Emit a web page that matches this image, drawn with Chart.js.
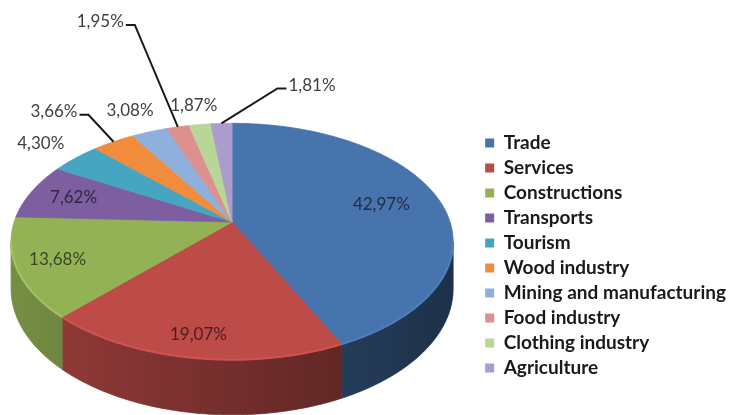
<!DOCTYPE html>
<html lang="en">
<head>
<meta charset="UTF-8">
<title>Companies by sector</title>
<script src="https://cdn.jsdelivr.net/npm/chart.js@4"></script>
<style>
  html, body { margin: 0; padding: 0; background: #fff; }
  #chart { display: block; }
</style>
</head>
<body>
<canvas id="chart" width="736" height="415"></canvas>
<script>
const CATEGORIES = ['Trade', 'Services', 'Constructions', 'Transports', 'Tourism', 'Wood industry',
  'Mining and manufacturing', 'Food industry', 'Clothing industry', 'Agriculture'];
const SHARES = [42.97, 19.07, 13.68, 7.62, 4.30, 3.66, 3.08, 1.95, 1.87, 1.81];
const COLORS = ['#4774ad', '#bd4b48', '#93b255', '#7d5ea0', '#46a6c2', '#f08c3c',
  '#8fb0dc', '#dc918f', '#b9d699', '#ad9ccb'];

// where each percentage goes: r = distance along the slice middle (1 = rim),
// lead = elbow of a leader line, relative to the rim point (thin slices)
const LABEL_SPOTS = [
  { r: 0.72 }, { r: 0.85 }, { r: 0.82 }, { r: 0.785 }, { r: 1.25 },
  { lead: [-25, -27] }, { r: 1.28 }, { lead: [-43, -102] }, { r: 1.23 }, { lead: [56, -35] }
];

// fake 3d: tilted disc seen in perspective
const TILT = { dx: -7.5, dy: -33.5, rx: 218, ry: 115, persp: 0.165, depth: 46 };

function shade(hex, f) {
  const n = parseInt(hex.slice(1), 16);
  const k = (c) => Math.min(255, Math.round(c * f));
  return `rgb(${k((n >> 16) & 255)},${k((n >> 8) & 255)},${k(n & 255)})`;
}

const pie3d = {
  id: 'pie3d',
  beforeDatasetsDraw(chart) {
    const ctx = chart.ctx;
    const arcs = chart.getDatasetMeta(0).data;
    const cx = arcs[0].x + TILT.dx;
    const cy = arcs[0].y + TILT.dy;

    const proj = (a, r, z) => {
      const u = r * Math.cos(a), v = r * Math.sin(a);
      const den = 1 - TILT.persp * v;
      return { x: cx + TILT.rx * u / den, y: cy + (TILT.ry * v + TILT.depth * z) / den };
    };
    const trace = (a1, a2, z, first) => {
      const n = Math.max(2, Math.ceil(Math.abs(a2 - a1) / 0.01));
      for (let k = 0; k <= n; k++) {
        const p = proj(a1 + (a2 - a1) * k / n, 1, z);
        if (k === 0 && first) ctx.moveTo(p.x, p.y); else ctx.lineTo(p.x, p.y);
      }
    };

    const front0 = Math.asin(TILT.persp);
    const front1 = Math.PI - front0;
    ctx.save();

    // side walls
    arcs.forEach((arc, i) => {
      const a1 = Math.max(arc.startAngle, front0);
      const a2 = Math.min(arc.endAngle, front1);
      if (a2 <= a1) return;
      const grad = ctx.createLinearGradient(cx - TILT.rx, 0, cx + TILT.rx, 0);
      grad.addColorStop(0, shade(COLORS[i], 0.8));
      grad.addColorStop(1, shade(COLORS[i], 0.42));
      ctx.beginPath();
      trace(a1, a2, 0, true);
      trace(a2, a1, 1, false);
      ctx.closePath();
      ctx.fillStyle = grad;
      ctx.fill();
      ctx.strokeStyle = grad;
      ctx.lineWidth = 0.8;
      ctx.stroke();
    });

    // top faces
    arcs.forEach((arc, i) => {
      const c = proj(0, 0, 0);
      ctx.beginPath();
      ctx.moveTo(c.x, c.y);
      trace(arc.startAngle, arc.endAngle, 0, false);
      ctx.closePath();
      ctx.fillStyle = COLORS[i];
      ctx.fill();
      ctx.strokeStyle = COLORS[i];
      ctx.lineWidth = 0.8;
      ctx.stroke();
      // light glint along the front rim
      const a1 = Math.max(arc.startAngle, front0);
      const a2 = Math.min(arc.endAngle, front1);
      if (a2 > a1) {
        ctx.beginPath();
        trace(a1, a2, 0, true);
        ctx.strokeStyle = shade(COLORS[i], 1.1);
        ctx.lineWidth = 2;
        ctx.stroke();
      }
    });

    // percentage labels
    ctx.font = '17px Lato';
    ctx.textBaseline = 'middle';
    arcs.forEach((arc, i) => {
      const spot = LABEL_SPOTS[i];
      const mid = (arc.startAngle + arc.endAngle) / 2;
      const text = SHARES[i].toFixed(2).replace('.', ',') + '%';
      if (spot.r) {
        const p = proj(mid, spot.r, 0);
        ctx.textAlign = 'center';
        ctx.fillStyle = spot.r < 1 ? shade(COLORS[i], 0.4) : '#404040';
        ctx.fillText(text, p.x, p.y);
      } else {
        const a = proj(mid, 1, 0);
        const side = Math.sign(spot.lead[0]);
        const ex = a.x + spot.lead[0], ey = a.y + spot.lead[1];
        const tx = ex + side * 9;
        ctx.beginPath();
        ctx.moveTo(a.x, a.y);
        ctx.lineTo(ex, ey);
        ctx.lineTo(tx, ey);
        ctx.strokeStyle = '#1a1a1a';
        ctx.lineWidth = 2;
        ctx.stroke();
        ctx.textAlign = side < 0 ? 'right' : 'left';
        ctx.fillStyle = '#404040';
        ctx.fillText(text, tx + side * 2, ey - 3);
      }
    });
    ctx.restore();
    return false;
  }
};

new Chart(document.getElementById('chart'), {
  type: 'pie',
  data: {
    labels: CATEGORIES,
    datasets: [{ data: SHARES, backgroundColor: COLORS, borderWidth: 0 }]
  },
  options: {
    responsive: false,
    animation: false,
    devicePixelRatio: 1,
    layout: { padding: { top: 96 } },
    plugins: {
      tooltip: { enabled: false },
      legend: {
        position: 'right',
        labels: {
          boxWidth: 9,
          boxHeight: 9,
          padding: 6,
          color: '#1a1a1a',
          font: { family: 'Lato', size: 19, weight: 'bold' }
        }
      }
    }
  },
  plugins: [pie3d]
});
</script>
</body>
</html>
